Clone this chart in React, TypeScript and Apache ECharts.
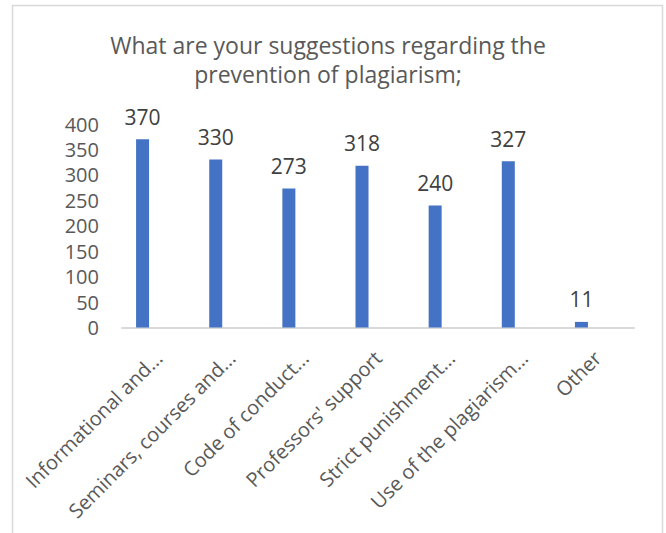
import React, { useEffect, useRef } from "react";
import * as echarts from "echarts";

const titleText = "What are your suggestions regarding the\nprevention of plagiarism;";
const categories = [
  "Informational and...",
  "Seminars, courses and...",
  "Code of conduct...",
  "Professors' support",
  "Strict punishment...",
  "Use of the plagiarism...",
  "Other",
];
const values = [370, 330, 273, 318, 240, 327, 11];
const emptySeries = [null, null, null, null, null, null, null];
const yMin = 0;
const yMax = 400;
const yStep = 50;

export default function App() {
  const ref = useRef<HTMLDivElement>(null);
  useEffect(() => {
    if (!ref.current) return;
    const chart = echarts.init(ref.current, null, { renderer: "svg" });
    const font = "'Open Sans', sans-serif";
    chart.setOption({
      animation: false,
      backgroundColor: "#ffffff",
      graphic: [
        {
          type: "rect",
          shape: { x: 12.5, y: 5.5, width: 650, height: 600 },
          style: { fill: "none", stroke: "#d9d9d9", lineWidth: 1.5 },
          silent: true,
        },
        {
          type: "text",
          x: 328,
          y: 30.5,
          silent: true,
          style: {
            text: titleText,
            fontFamily: font,
            fontSize: 23,
            fill: "#595959",
            lineHeight: 29,
            textAlign: "center",
            textVerticalAlign: "top",
          },
        },
      ],
      grid: {
        left: 122,
        right: 32,
        top: 124,
        bottom: 205.5,
        containLabel: false,
        outerBoundsMode: "none",
      },
      xAxis: {
        type: "category",
        data: categories,
        axisLine: { lineStyle: { color: "#d9d9d9", width: 2 } },
        axisTick: { show: false },
        axisLabel: {
          interval: 0,
          rotate: 45,
          margin: 27,
          fontFamily: font,
          fontSize: 20,
          color: "#595959",
        },
      },
      yAxis: {
        type: "value",
        min: yMin,
        max: yMax,
        interval: yStep,
        splitLine: { show: false },
        axisLine: { show: false },
        axisTick: { show: false },
        axisLabel: { margin: 23, fontFamily: font, fontSize: 20, color: "#595959" },
      },
      series: [
        {
          type: "bar",
          data: values,
          barWidth: 13,
          barGap: "146%",
          itemStyle: { color: "#4472C4" },
          label: {
            show: true,
            position: "top",
            distance: 12,
            fontFamily: font,
            fontSize: 21,
            color: "#404040",
          },
        },
        {
          type: "bar",
          data: emptySeries,
          barWidth: 13,
          barGap: "146%",
          itemStyle: { color: "#ED7D31" },
        },
      ],
    });
    return () => chart.dispose();
  }, []);
  return (
    <div
      ref={ref}
      style={{ position: "absolute", left: 0, top: 0, width: 666, height: 533 }}
    />
  );
}
